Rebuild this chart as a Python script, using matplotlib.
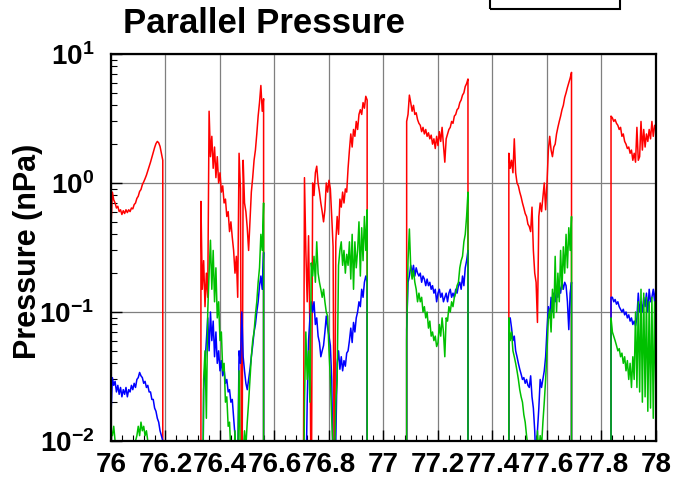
import numpy as np
import matplotlib
matplotlib.use("Agg")
import matplotlib.pyplot as plt
from matplotlib.patches import Rectangle
from matplotlib.ticker import FixedLocator, FixedFormatter, MultipleLocator, LogLocator, NullFormatter

plt.rcParams['font.family'] = ['Liberation Sans', 'DejaVu Sans']
plt.rcParams['mathtext.fontset'] = 'custom'
plt.rcParams['mathtext.rm'] = 'Liberation Sans:bold'
plt.rcParams['mathtext.bf'] = 'Liberation Sans:bold'
plt.rcParams['mathtext.it'] = 'Liberation Sans:bold'

FLOOR = 1e-4   # value used where the instrument has no data (drops off the log axis)

# start / end of each data interval (hours)
seg_times = [(76.000, 76.190), (76.330, 76.560), (76.705, 76.940),
             (77.085, 77.310), (77.460, 77.690), (77.835, 78.000)]

red_segs = [
    [0.46, 0.85, 0.74, 0.70, 0.64, 0.66, 0.60, 0.62, 0.57, 0.61, 0.58, 0.62, 0.59,
     0.62, 0.60, 0.64, 0.63, 0.68, 0.70, 0.76, 0.79, 0.86, 0.89, 0.97, 1.02, 1.08,
     1.15, 1.24, 1.33, 1.45, 1.58, 1.72, 1.88, 2.02, 2.10, 2.05, 1.92, 1.70, 1.50],
    [0.72, 0.15, 0.25, 0.11, 0.20, 0.13, 3.6, 1.6, 2.3, 1.3, 1.9, 1.1, 1.6, 1.0,
     1.2, 0.85, 0.95, 0.70, 0.75, 0.55, 0.60, 0.42, 0.50, 0.38, 0.30, 0.20, 0.27,
     0.13, 1.7, 0.9, 0.001, 1.5, 0.70, 0.60, 0.45, 0.30, 0.50, 0.85, 1.1, 1.5, 1.8,
     2.4, 3.3, 4.2, 5.7, 3.6, 4.5],
    [0.001, 1.1, 0.30, 0.12, 0.39, 0.07, 0.002, 1.0, 0.80, 1.2, 1.35, 1.0, 0.85,
     0.70, 0.60, 0.50, 0.62, 1.0, 0.85, 1.05, 0.90, 0.55, 0.32, 0.002, 0.35, 0.55,
     0.40, 0.75, 0.65, 0.85, 0.70, 0.90, 0.85, 1.3, 1.8, 2.4, 1.9, 2.6, 2.3, 3.0,
     2.6, 3.4, 3.7, 3.4, 4.2, 3.8, 4.7, 4.4],
    [3.0, 3.4, 4.8, 4.2, 3.6, 4.0, 3.4, 3.5, 3.1, 2.9, 2.8, 2.5, 2.7, 2.4, 2.6,
     2.3, 2.45, 2.2, 2.35, 2.0, 2.2, 1.85, 2.3, 1.95, 2.5, 2.1, 2.7, 2.0, 1.45,
     2.2, 2.4, 2.6, 2.7, 3.0, 2.9, 3.3, 3.4, 3.7, 3.8, 4.2, 4.4, 4.8, 5.0, 5.6,
     5.9, 6.4],
    [1.7, 1.3, 1.5, 1.2, 2.2, 1.2, 1.0, 0.95, 0.85, 0.78, 0.70, 0.64, 0.58, 0.55,
     0.48, 0.46, 0.42, 0.65, 0.30, 0.20, 0.17, 0.083, 0.55, 0.70, 0.60, 0.78, 1.0,
     0.62, 1.0, 1.8, 2.3, 1.8, 1.6, 1.9, 2.0, 2.4, 2.7, 3.0, 3.3, 3.7, 4.0, 4.6,
     5.0, 5.5, 6.0, 6.5, 7.2],
    [3.3, 3.2, 3.0, 3.1, 2.9, 2.8, 2.6, 2.7, 2.3, 2.4, 2.1, 2.0, 1.85, 1.9, 1.7,
     1.8, 1.5, 1.7, 1.45, 2.7, 1.5, 1.6, 3.0, 1.8, 2.6, 1.9, 2.4, 2.1, 2.6, 2.2,
     3.0, 2.3, 2.8, 2.6],
]

blue_segs = [
    [0.016, 0.031, 0.027, 0.029, 0.024, 0.027, 0.023, 0.026, 0.022, 0.025, 0.023,
     0.026, 0.022, 0.025, 0.024, 0.027, 0.025, 0.028, 0.026, 0.030, 0.031, 0.034,
     0.032, 0.031, 0.028, 0.029, 0.026, 0.027, 0.024, 0.024, 0.021, 0.021, 0.018,
     0.017, 0.015, 0.014, 0.012, 0.011, 0.010],
    [0.001, 0.001, 0.025, 0.04, 0.06, 0.09, 0.05, 0.10, 0.06, 0.085, 0.045, 0.07,
     0.04, 0.05, 0.035, 0.042, 0.032, 0.036, 0.028, 0.030, 0.024, 0.025, 0.020,
     0.021, 0.015, 0.011, 0.008, 0.006, 0.05, 0.04, 0.10, 0.045, 0.035, 0.028,
     0.025, 0.030, 0.036, 0.045, 0.055, 0.07, 0.08, 0.10, 0.12, 0.16, 0.19, 0.15,
     0.29],
    [0.001, 0.001, 0.004, 0.02, 0.06, 0.09, 0.12, 0.10, 0.12, 0.08, 0.09, 0.065,
     0.058, 0.045, 0.05, 0.055, 0.07, 0.093, 0.075, 0.065, 0.055, 0.03, 0.006,
     0.003, 0.01, 0.04, 0.05, 0.036, 0.045, 0.035, 0.042, 0.038, 0.048, 0.05, 0.06,
     0.075, 0.058, 0.083, 0.07, 0.09, 0.10, 0.12, 0.11, 0.15, 0.13, 0.17, 0.19, 0.17],
    [0.073, 0.17, 0.19, 0.23, 0.20, 0.23, 0.19, 0.22, 0.20, 0.19, 0.20, 0.17, 0.19,
     0.18, 0.16, 0.18, 0.16, 0.17, 0.15, 0.16, 0.14, 0.15, 0.12, 0.14, 0.15, 0.13,
     0.14, 0.12, 0.13, 0.14, 0.12, 0.14, 0.15, 0.13, 0.14, 0.13, 0.15, 0.14, 0.16,
     0.17, 0.15, 0.19, 0.16, 0.22, 0.25, 0.30],
    [0.087, 0.09, 0.075, 0.06, 0.065, 0.05, 0.045, 0.04, 0.036, 0.033, 0.030, 0.031,
     0.028, 0.030, 0.027, 0.026, 0.032, 0.022, 0.018, 0.012, 0.006, 0.012, 0.018,
     0.03, 0.026, 0.030, 0.035, 0.045, 0.073, 0.11, 0.09, 0.13, 0.10, 0.14, 0.12,
     0.15, 0.13, 0.16, 0.14, 0.17, 0.15, 0.17, 0.16, 0.12, 0.073, 0.14, 0.17],
    [0.13, 0.13, 0.12, 0.125, 0.115, 0.12, 0.11, 0.105, 0.10, 0.105, 0.095, 0.10,
     0.09, 0.095, 0.085, 0.09, 0.08, 0.085, 0.078, 0.09, 0.14, 0.10, 0.12, 0.10,
     0.13, 0.11, 0.14, 0.10, 0.15, 0.12, 0.13, 0.15, 0.12, 0.16],
]

green_segs = [
    [0.012, 0.011, 0.013, 0.010, 0.008, 0.006, 0.005, 0.005, 0.004, 0.005, 0.004,
     0.005, 0.005, 0.006, 0.006, 0.007, 0.008, 0.009, 0.010, 0.011, 0.013, 0.011,
     0.014, 0.012, 0.013, 0.011, 0.012, 0.010, 0.009, 0.008, 0.007, 0.006, 0.005,
     0.005, 0.004, 0.004, 0.003, 0.003, 0.003],
    [0.001, 0.001, 0.03, 0.05, 0.015, 0.10, 0.20, 0.36, 0.15, 0.30, 0.12, 0.22,
     0.09, 0.12, 0.06, 0.07, 0.035, 0.04, 0.02, 0.022, 0.013, 0.014, 0.008, 0.010,
     0.006, 0.012, 0.005, 0.006, 0.035, 0.006, 0.005, 0.008, 0.012, 0.009, 0.014,
     0.02, 0.03, 0.045, 0.06, 0.07, 0.095, 0.12, 0.17, 0.22, 0.40, 0.30, 0.70],
    [0.001, 0.02, 0.07, 0.03, 0.05, 0.02, 0.24, 0.19, 0.27, 0.17, 0.35, 0.20, 0.17,
     0.15, 0.13, 0.15, 0.12, 0.10, 0.093, 0.05, 0.03, 0.015, 0.008, 0.006, 0.02,
     0.03, 0.23, 0.30, 0.35, 0.23, 0.30, 0.20, 0.28, 0.23, 0.35, 0.18, 0.40, 0.15,
     0.35, 0.22, 0.30, 0.50, 0.19, 0.45, 0.25, 0.55, 0.30, 0.62],
    [0.06, 0.25, 0.44, 0.22, 0.18, 0.21, 0.17, 0.15, 0.12, 0.14, 0.12, 0.13, 0.10,
     0.11, 0.09, 0.10, 0.075, 0.085, 0.065, 0.07, 0.060, 0.065, 0.054, 0.058, 0.08,
     0.065, 0.09, 0.07, 0.045, 0.09, 0.085, 0.11, 0.10, 0.12, 0.11, 0.13, 0.14,
     0.16, 0.17, 0.22, 0.25, 0.27, 0.35, 0.40, 0.55, 0.85],
    [0.09, 0.06, 0.07, 0.05, 0.045, 0.04, 0.035, 0.03, 0.025, 0.022, 0.02, 0.016,
     0.014, 0.011, 0.009, 0.008, 0.007, 0.008, 0.006, 0.009, 0.007, 0.012, 0.008,
     0.011, 0.009, 0.014, 0.02, 0.03, 0.05, 0.09, 0.105, 0.07, 0.15, 0.09, 0.27,
     0.10, 0.20, 0.12, 0.30, 0.15, 0.32, 0.20, 0.40, 0.22, 0.45, 0.30, 0.55],
    [0.09, 0.07, 0.065, 0.06, 0.055, 0.05, 0.052, 0.045, 0.048, 0.04, 0.045, 0.035,
     0.042, 0.03, 0.04, 0.026, 0.045, 0.03, 0.10, 0.026, 0.12, 0.024, 0.15, 0.02,
     0.14, 0.022, 0.13, 0.017, 0.12, 0.018, 0.13, 0.015, 0.12, 0.02],
]

xtick_vals = [76, 76.2, 76.4, 76.6, 76.8, 77, 77.2, 77.4, 77.6, 77.8, 78]
xtick_labels = ['76', '76.2', '76.4', '76.6', '76.8', '77', '77.2', '77.4', '77.6', '77.8', '78']
ytick_vals = [1e-2, 1e-1, 1e0, 1e1]
ytick_labels = [r'$10^{-2}$', r'$10^{-1}$', r'$10^{0}$', r'$10^{1}$']


def build(segs):
    t, y = [], []
    for (t0, t1), vals in zip(seg_times, segs):
        tt = np.linspace(t0, t1, len(vals))
        t += [t0] + list(tt) + [t1]
        y += [FLOOR] + list(vals) + [FLOOR]
    return np.array(t), np.array(y)


fig = plt.figure(figsize=(6.76, 4.86), dpi=100)
ax = fig.add_axes([0.1642, 0.0926, 0.8062, 0.7963])

for segs, col in [(red_segs, '#ff0000'), (blue_segs, '#0000ff'), (green_segs, '#00c000')]:
    t, y = build(segs)
    ax.plot(t, y, color=col, lw=1.1)

ax.set_yscale('log')
ax.set_xlim(76, 78)
ax.set_ylim(1e-2, 1e1)

ax.xaxis.set_major_locator(FixedLocator(xtick_vals))
ax.xaxis.set_major_formatter(FixedFormatter(xtick_labels))
ax.xaxis.set_minor_locator(MultipleLocator(0.04))
ax.yaxis.set_major_locator(FixedLocator(ytick_vals))
ax.yaxis.set_major_formatter(FixedFormatter(ytick_labels))
ax.yaxis.set_minor_locator(LogLocator(base=10, subs=np.arange(2, 10)))
ax.yaxis.set_minor_formatter(NullFormatter())

ax.grid(True, which='major', color='#7f7f7f', lw=0.9)
ax.tick_params(which='both', direction='in', top=False, right=False, color='black')
ax.tick_params(which='major', length=8, width=1.0)
ax.tick_params(which='minor', length=4, width=0.8)
ax.tick_params(axis='x', labelsize=20, pad=8)
ax.tick_params(axis='y', labelsize=20, pad=12)
for lab in ax.get_xticklabels():
    lab.set_fontweight('bold')

for sp in ax.spines.values():
    sp.set_linewidth(1.6)

ax.set_ylabel('Pressure (nPa)', fontsize=22, fontweight='bold')
ax.yaxis.set_label_coords(-0.125, 0.49)
fig.text(123 / 676, 1 - 33 / 486, 'Parallel Pressure', fontsize=25, fontweight='bold',
         ha='left', va='baseline')

# legend frame peeking in at the top edge
fig.patches.append(Rectangle((490 / 676, 1 - 9 / 486), 130 / 676, 0.05,
                             transform=fig.transFigure, fill=False, ec='black', lw=1.5))

fig.savefig('out.png', dpi=100)
